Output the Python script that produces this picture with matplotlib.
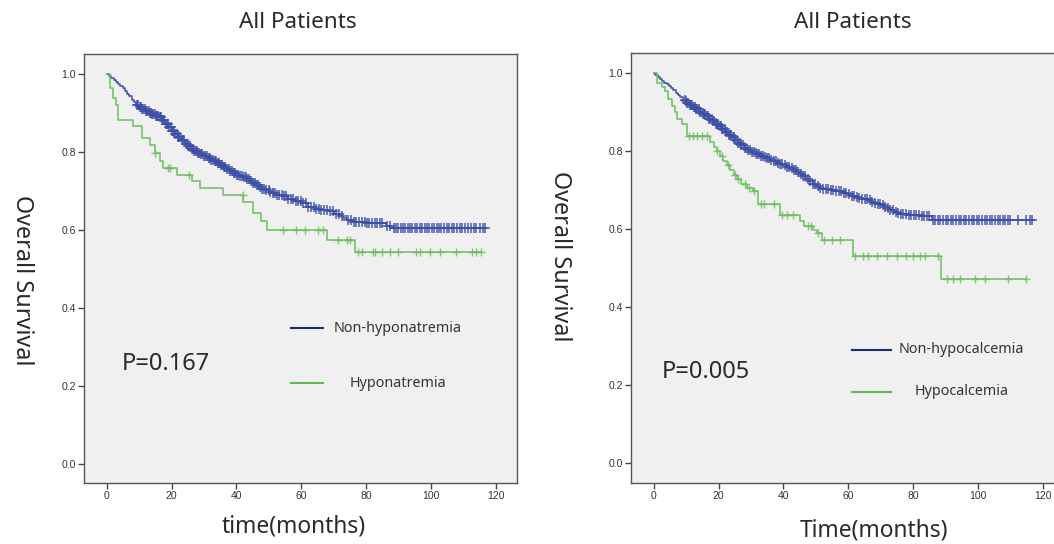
import matplotlib
matplotlib.use("Agg")
import matplotlib.pyplot as plt
import numpy as np

# ---------------------------------------------------------------------------
# Data (step times in months, survival after step)
# ---------------------------------------------------------------------------

# Left panel: sodium
non_hypoNa_t = [0, 0.7, 1.4, 2.1, 2.8, 3.5, 4.2, 4.9, 5.6, 6.3, 7, 7.7, 8.4, 9.1,
                10, 11, 12, 13, 14, 15, 16, 17, 18, 19, 20, 21, 22, 23, 24, 25, 26,
                27, 28, 29, 30, 31, 32, 33, 34, 35, 36, 37, 38, 39, 40, 41, 42, 43,
                44, 45, 46, 47, 48, 49, 50, 51, 52, 54, 56, 58, 60, 62, 64, 66, 68,
                70, 72, 73, 74, 76, 80, 84, 86, 88]
non_hypoNa_s = [1.0, 0.995, 0.99, 0.984, 0.979, 0.975, 0.971, 0.964, 0.957, 0.95,
                0.943, 0.935, 0.928, 0.921, 0.915, 0.91, 0.905, 0.901, 0.897, 0.894,
                0.89, 0.882, 0.873, 0.864, 0.855, 0.846, 0.838, 0.83, 0.822, 0.815,
                0.808, 0.803, 0.798, 0.794, 0.79, 0.785, 0.78, 0.776, 0.772, 0.767,
                0.762, 0.757, 0.752, 0.747, 0.742, 0.738, 0.735, 0.73, 0.725, 0.72,
                0.715, 0.71, 0.706, 0.702, 0.698, 0.694, 0.69, 0.686, 0.68, 0.675,
                0.668, 0.66, 0.655, 0.652, 0.648, 0.642, 0.635, 0.63, 0.625, 0.62,
                0.619, 0.617, 0.61, 0.605]
non_hypoNa_cens = [9.4, 9.8, 10.2, 10.6, 11, 11.3, 11.7, 12.1, 12.5, 12.9, 13.2, 13.6,
                   14, 14.4, 14.8, 15.1, 15.5, 15.9, 16.3, 16.7, 17, 17.4, 17.8, 18.2,
                   18.6, 18.9, 19.3, 19.7, 20.1, 20.5, 20.8, 21.2, 21.6, 22, 22.4,
                   22.7, 23.1, 23.5, 23.9, 24.3, 24.7, 25, 25.4, 25.8, 26.2, 26.6,
                   27, 27.4, 27.8, 28.2, 28.6, 29, 29.5, 30, 30.4, 30.9, 31.4, 31.8,
                   32.3, 32.8, 33.3, 33.7, 34.2, 34.7, 35.2, 35.7, 36.2, 36.6, 37.1,
                   37.6, 38.1, 38.6, 39.1, 39.6, 40.1, 40.6, 41.1, 41.7, 42.2, 42.8,
                   43.3, 43.9, 44.5, 45, 45.6, 46.2, 46.8, 47.4, 48, 48.6, 49.2, 49.9,
                   50.5, 51.2, 51.8, 52.5, 53.2, 53.9, 54.6, 55.3, 56, 56.8, 57.5,
                   58.3, 59, 59.8, 60.6, 61.4, 62.2, 63, 63.8, 64.6, 65.4, 66.2, 67,
                   67.9, 68.8, 69.7, 70.6, 71.5, 72.4, 74.5, 75.3, 76.2, 77, 77.8,
                   78.6, 79.5, 80.3, 81, 81.8, 82.6, 83.3, 84.2, 85, 86.5, 87.3, 88.5,
                   89.2, 89.9, 90.6, 91.3, 92, 92.8, 93.5, 94.2, 95, 95.8, 96.5, 97.2,
                   98, 98.7, 99.4, 100.2, 101, 101.7, 102.4, 103.2, 104, 104.8, 105.6,
                   106.4, 107.2, 108, 108.8, 109.6, 110.5, 111.3, 112.2, 113.1, 114,
                   115, 116, 116.6]

hypoNa_t = [0, 1, 2, 3, 3.6, 8.2, 10.8, 13.3, 14.9, 16.4, 17.5, 21.6, 26.2, 28.8,
            35.9, 42.1, 45.2, 47.7, 49.3, 67.8, 76.5]
hypoNa_s = [1.0, 0.964, 0.938, 0.921, 0.883, 0.866, 0.836, 0.819, 0.797, 0.776, 0.759,
            0.742, 0.725, 0.708, 0.69, 0.673, 0.644, 0.622, 0.599, 0.573, 0.544]
hypoNa_cens = [15, 19, 19.5, 25.5, 42, 54.4, 58.5, 61.1, 65.2, 66.7, 71.4, 74.1, 75,
               77.5, 78.6, 82.2, 82.7, 84.8, 87.3, 89.9, 95.5, 96.6, 99.7, 102.7,
               107.8, 112.5, 114, 115.3]

# Right panel: calcium
non_hypoCa_t = [0, 0.5, 1.2, 1.9, 2.6, 3.3, 4, 4.7, 5.4, 6.1, 6.8, 7.5, 8.2, 8.9, 9.6,
                10.3, 11, 12, 13, 14, 15, 16, 17, 18, 19, 20, 21, 22, 23, 24, 25, 26,
                27, 28, 29, 30, 31, 32, 33, 34, 35, 36, 37, 38, 39, 40, 41, 42, 43,
                44, 45, 46, 47, 48, 49, 50, 51, 52, 54, 56, 58, 60, 61, 62, 63, 64,
                66, 67, 68, 69, 70, 71, 72, 73, 74, 75, 76, 78, 82, 85.7]
non_hypoCa_s = [1.0, 0.995, 0.99, 0.985, 0.98, 0.976, 0.972, 0.967, 0.962, 0.956,
                0.95, 0.944, 0.938, 0.932, 0.928, 0.925, 0.92, 0.914, 0.908, 0.902,
                0.896, 0.89, 0.884, 0.878, 0.871, 0.864, 0.857, 0.85, 0.843, 0.836,
                0.829, 0.822, 0.815, 0.809, 0.803, 0.799, 0.795, 0.792, 0.789, 0.786,
                0.782, 0.778, 0.775, 0.771, 0.767, 0.764, 0.761, 0.757, 0.752, 0.747,
                0.742, 0.736, 0.73, 0.724, 0.717, 0.71, 0.706, 0.704, 0.702, 0.698,
                0.694, 0.69, 0.686, 0.682, 0.68, 0.678, 0.674, 0.671, 0.668, 0.665,
                0.662, 0.658, 0.655, 0.65, 0.645, 0.642, 0.64, 0.637, 0.633, 0.625]
non_hypoCa_cens = [9.5, 9.9, 10.3, 10.7, 11.1, 11.5, 11.9, 12.3, 12.7, 13.1, 13.5,
                   13.9, 14.3, 14.7, 15.1, 15.5, 15.9, 16.3, 16.7, 17.1, 17.5, 17.9,
                   18.3, 18.7, 19.1, 19.5, 19.9, 20.3, 20.7, 21.1, 21.5, 21.9, 22.3,
                   22.7, 23.1, 23.5, 23.9, 24.3, 24.7, 25.1, 25.6, 26, 26.5, 27, 27.5,
                   28, 28.5, 29, 29.6, 30.2, 30.8, 31.4, 32, 32.6, 33.2, 33.8, 34.4,
                   35, 35.6, 36.3, 37, 37.6, 38.3, 39, 39.7, 40.4, 41.1, 41.8, 42.5,
                   43.2, 43.9, 44.6, 45.3, 46, 46.8, 47.5, 48.3, 49, 49.8, 50.6, 51.4,
                   52.2, 53, 53.8, 54.6, 55.4, 56.2, 57, 57.8, 58.6, 59.4, 60.2, 61,
                   61.8, 62.6, 63.4, 64.2, 65, 65.8, 66.6, 67.4, 68.2, 69, 69.8, 70.6,
                   71.4, 72.2, 73, 73.8, 74.6, 75.4, 76.2, 77, 77.8, 78.6, 79.4, 80.2,
                   81, 81.8, 82.6, 83.4, 84.2, 85, 86, 86.8, 87.6, 88.4, 89.2, 90,
                   90.8, 91.6, 92.4, 93.2, 94, 94.8, 95.6, 96.4, 97.2, 98, 98.8, 99.6,
                   100.4, 101.2, 102, 102.8, 103.6, 104.4, 105.2, 106, 106.8, 107.6,
                   108.4, 109.2, 110, 112.2, 114.9, 115.9, 116.7]

hypoCa_t = [0, 1, 2.5, 3.5, 4.5, 5.7, 6.5, 7.2, 8.7, 10.3, 17.4, 18.5, 19.5, 20.5,
            21.5, 22.5, 23.6, 24.7, 25.7, 27, 28.7, 30.7, 32.3, 39, 45, 46.2, 49,
            50.3, 51.8, 61.5, 88.7]
hypoCa_s = [1.0, 0.976, 0.965, 0.955, 0.935, 0.916, 0.9, 0.882, 0.869, 0.84, 0.825,
            0.812, 0.8, 0.788, 0.776, 0.765, 0.752, 0.74, 0.728, 0.716, 0.706, 0.698,
            0.664, 0.638, 0.622, 0.608, 0.598, 0.591, 0.574, 0.531, 0.473]
hypoCa_cens = [11, 12, 13.5, 15, 16.5, 19.5, 21, 23, 25, 26, 28, 29.5, 31, 33, 34, 37,
               39.5, 41, 43, 47.5, 48.5, 50.8, 52.5, 55, 57.5, 62.1, 64.6, 66.2, 68.7,
               71.8, 74.9, 77.9, 80, 82, 83.6, 87.7, 90.3, 92.3, 94.4, 99, 102, 109.2,
               114.7]

x_ticks = [0, 20, 40, 60, 80, 100, 120]
y_ticks = [0.0, 0.2, 0.4, 0.6, 0.8, 1.0]

blue = '#3d4fa6'
green = '#6cbf5e'
legend_blue = '#1f2b70'
legend_green = '#5fb652'
lab_font = ['Noto Sans', 'DejaVu Sans']
txt_color = '#2a2a2a'

# ---------------------------------------------------------------------------
# Helpers
# ---------------------------------------------------------------------------

def km_curve(ax, t, s, cens, color, ms=6, mew=1.0):
    t = np.asarray(t, float)
    s = np.asarray(s, float)
    cens = np.asarray(cens, float)
    t_end = max(t[-1], cens.max())
    tt = np.append(t, t_end)
    ss = np.append(s, s[-1])
    ax.step(tt, ss, where='post', color=color, lw=1.1, zorder=3)
    idx = np.searchsorted(t, cens, side='right') - 1
    ax.plot(cens, s[idx], ls='none', marker='+', ms=ms, mew=mew, color=color,
            alpha=0.85, zorder=4)


def style_axes(ax):
    ax.set_facecolor('#f0f0f0')
    ax.set_xlim(-7, 126.5)
    ax.set_ylim(-0.05, 1.052)
    ax.set_xticks(x_ticks)
    ax.set_yticks(y_ticks)
    ax.set_xticklabels([str(v) for v in x_ticks])
    ax.set_yticklabels(['%.1f' % v for v in y_ticks])
    for sp in ax.spines.values():
        sp.set_color('#555555')
        sp.set_linewidth(1.0)
    ax.tick_params(direction='out', length=4, width=1.0, color='#444444',
                   labelsize=7.5, labelcolor='#333333', pad=2)
    for lab in ax.get_xticklabels() + ax.get_yticklabels():
        lab.set_family('Liberation Sans')


def legend(ax, x0, x1, xt, y_top, y_bot, labels):
    for y, c, lab in zip([y_top, y_bot], [legend_blue, legend_green], labels):
        ax.plot([x0, x1], [y, y], color=c, lw=1.5, transform=ax.transAxes,
                clip_on=False)
        ax.text(xt, y, lab, transform=ax.transAxes, ha='center', va='center',
                fontsize=10.3, color='#333333', family=lab_font)


# ---------------------------------------------------------------------------
# Figure
# ---------------------------------------------------------------------------
fig = plt.figure(figsize=(10.54, 5.44), dpi=100)
fig.patch.set_facecolor('white')

ax1 = fig.add_axes([84 / 1054, 1 - 483 / 544, 433 / 1054, 429 / 544])
ax2 = fig.add_axes([631 / 1054, 1 - 483 / 544, 433 / 1054, 430 / 544])

km_curve(ax1, non_hypoNa_t, non_hypoNa_s, non_hypoNa_cens, blue, ms=7, mew=1.2)
km_curve(ax1, hypoNa_t, hypoNa_s, hypoNa_cens, green)
km_curve(ax2, non_hypoCa_t, non_hypoCa_s, non_hypoCa_cens, blue, ms=7, mew=1.2)
km_curve(ax2, hypoCa_t, hypoCa_s, hypoCa_cens, green)

style_axes(ax1)
style_axes(ax2)

legend(ax1, 0.478, 0.552, 0.725, 0.361, 0.233, ['Non-hyponatremia', 'Hyponatremia'])
legend(ax2, 0.510, 0.600, 0.764, 0.310, 0.212, ['Non-hypocalcemia', 'Hypocalcemia'])

ax1.text(0.088, 0.277, 'P=0.167', transform=ax1.transAxes, ha='left', va='center',
         fontsize=17, color=txt_color, family=lab_font)
ax2.text(0.072, 0.259, 'P=0.005', transform=ax2.transAxes, ha='left', va='center',
         fontsize=17, color=txt_color, family=lab_font)

fig.text(298 / 1054, 1 - 22 / 544, 'All Patients', ha='center', va='center',
         fontsize=16.2, color=txt_color, family=lab_font)
fig.text(853 / 1054, 1 - 22 / 544, 'All Patients', ha='center', va='center',
         fontsize=16.2, color=txt_color, family=lab_font)

fig.text(22 / 1054, 1 - 280 / 544, 'Overall Survival', ha='center', va='center',
         rotation=270, fontsize=16.8, color=txt_color, family=lab_font)
fig.text(560 / 1054, 1 - 256 / 544, 'Overall Survival', ha='center', va='center',
         rotation=270, fontsize=16.8, color=txt_color, family=lab_font)

fig.text(294 / 1054, 1 - 527 / 544, 'time(months)', ha='center', va='center',
         fontsize=16.4, color=txt_color, family=lab_font)
fig.text(874 / 1054, 1 - 530 / 544, 'Time(months)', ha='center', va='center',
         fontsize=16.4, color=txt_color, family=lab_font)

fig.savefig('out.png', dpi=100)
